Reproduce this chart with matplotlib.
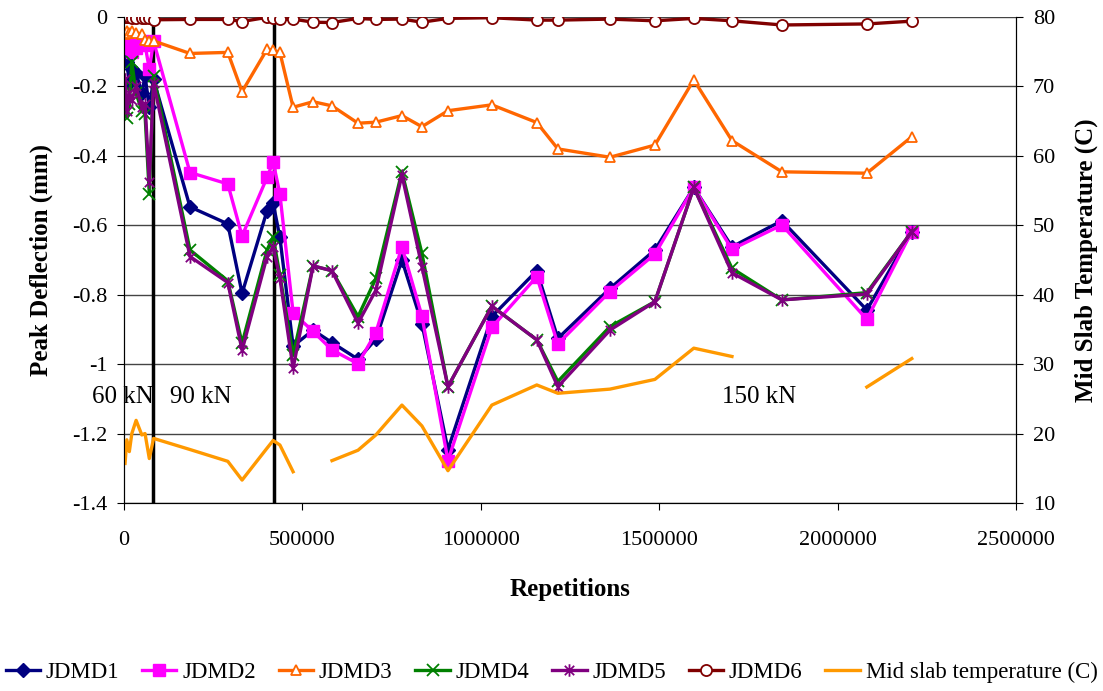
import numpy as np
import matplotlib
matplotlib.use("Agg")
import matplotlib.pyplot as plt
from matplotlib.path import Path
from matplotlib.ticker import FuncFormatter

plt.rcParams['font.family'] = ['Liberation Serif', 'DejaVu Serif']
plt.rcParams['axes.unicode_minus'] = False

# load repetitions at each survey
reps = [3000, 8000, 15000, 22000, 34000, 50000, 59000, 71000, 83000,
        185000, 291000, 331000, 401000, 418000, 437000, 474000, 530000,
        583000, 656000, 706000, 779000, 835000, 908000, 1031000, 1157000,
        1216000, 1362000, 1488000, 1597000, 1704000, 1844000, 2082000, 2208000]

# peak deflections (mm)
jdmd1 = [-0.12, -0.13, -0.19, -0.15, -0.16, -0.22, -0.17, -0.26, -0.18,
         -0.547, -0.596, -0.796, -0.558, -0.536, -0.635, -0.948, -0.902,
         -0.938, -0.986, -0.928, -0.700, -0.883, -1.246, -0.863, -0.731,
         -0.926, -0.782, -0.671, -0.491, -0.662, -0.587, -0.844, -0.618]
jdmd2 = [-0.06, -0.09, -0.08, -0.10, -0.09, -0.07, -0.08, -0.15, -0.07,
         -0.448, -0.481, -0.631, -0.462, -0.417, -0.510, -0.852, -0.906,
         -0.959, -0.999, -0.909, -0.662, -0.861, -1.278, -0.894, -0.748,
         -0.942, -0.791, -0.683, -0.491, -0.669, -0.599, -0.871, -0.618]
jdmd3 = [-0.05, -0.04, -0.045, -0.04, -0.045, -0.05, -0.065, -0.068, -0.069,
         -0.105, -0.102, -0.215, -0.093, -0.095, -0.102, -0.260, -0.244,
         -0.256, -0.306, -0.303, -0.284, -0.316, -0.270, -0.253, -0.304,
         -0.380, -0.404, -0.369, -0.181, -0.356, -0.446, -0.450, -0.345]
jdmd4 = [-0.20, -0.29, -0.25, -0.13, -0.22, -0.27, -0.28, -0.51, -0.17,
         -0.671, -0.760, -0.940, -0.671, -0.634, -0.744, -0.974, -0.717,
         -0.731, -0.863, -0.753, -0.446, -0.681, -1.065, -0.833, -0.930,
         -1.050, -0.892, -0.820, -0.491, -0.724, -0.815, -0.794, -0.618]
jdmd5 = [-0.18, -0.27, -0.22, -0.24, -0.20, -0.26, -0.25, -0.475, -0.19,
         -0.690, -0.765, -0.960, -0.690, -0.662, -0.753, -1.012, -0.717,
         -0.731, -0.882, -0.787, -0.455, -0.719, -1.065, -0.833, -0.930,
         -1.065, -0.902, -0.820, -0.491, -0.737, -0.815, -0.798, -0.618]
jdmd6 = [0.0, -0.001, -0.001, -0.002, -0.002, -0.002, -0.003, -0.004, -0.008,
         -0.007, -0.007, -0.013, -0.001, -0.004, -0.006, -0.006, -0.015,
         -0.016, -0.004, -0.007, -0.006, -0.015, -0.004, -0.002, -0.009,
         -0.009, -0.006, -0.011, -0.004, -0.011, -0.023, -0.020, -0.012]

# mid slab temperature (C), gaps where not recorded
temp = [15.7, 19.1, 17.4, 20.0, 21.9, 19.8, 20.0, 16.4, 19.3,
        17.7, 16.0, 13.3, 17.9, 19.0, 18.35, 14.5, np.nan,
        16.1, 17.6, 19.8, 24.1, 21.1, 14.65, 24.1, 27.0,
        25.8, 26.4, 27.8, 32.3, 31.1, np.nan, 26.7, 30.8]

load_changes = [82000, 420000]
load_labels = [("60 kN", 82000, "right"), ("90 kN", 128000, "left"),
               ("150 kN", 1780000, "center")]

# Excel-style star: an x with a vertical bar
star = Path([(0, -1), (0, 1), (-0.75, -0.75), (0.75, 0.75), (-0.75, 0.75), (0.75, -0.75)],
            [Path.MOVETO, Path.LINETO, Path.MOVETO, Path.LINETO, Path.MOVETO, Path.LINETO])

fig = plt.figure(figsize=(11.03, 6.91), dpi=100)
ax = fig.add_axes([0.1124, 0.2721, 0.8087, 0.7033])

ax.plot(reps, jdmd1, color='#000080', lw=2.4, marker='D', ms=7, label='JDMD1')
ax.plot(reps, jdmd2, color='#FF00FF', lw=2.4, marker='s', ms=9, label='JDMD2')
ax.plot(reps, jdmd3, color='#FF6600', lw=2.4, marker='^', ms=7, mfc='white',
        mec='#FF6600', mew=1.3, label='JDMD3')
ax.plot(reps, jdmd4, color='#008000', lw=2.4, marker='x', ms=8, mew=1.3, label='JDMD4')
ax.plot(reps, jdmd5, color='#800080', lw=2.4, marker=star, ms=9, mew=1.3, label='JDMD5')
ax.plot(reps, jdmd6, color='#800000', lw=2.4, marker='o', ms=8, mfc='white',
        mec='#800000', mew=1.3, label='JDMD6')

for xv in load_changes:
    ax.axvline(xv, color='black', lw=2.5, zorder=1)

for txt, xv, ha in load_labels:
    ax.text(xv, -1.095, txt, ha=ha, va='center', fontsize=18, clip_on=False)

ax.set_xlim(0, 2500000)
ax.set_ylim(-1.4, 0)
ax.set_yticks(np.arange(-1.4, 0.01, 0.2))
ax.set_xticks(np.arange(0, 2500001, 500000))
ax.yaxis.set_major_formatter(FuncFormatter(lambda v, p: f"{round(v, 1):g}" if abs(v) > 1e-9 else "0"))
ax.xaxis.set_major_formatter(FuncFormatter(lambda v, p: f"{int(round(v))}"))
ax.grid(axis='y', color='#444444', lw=1.0)
ax.set_axisbelow(True)
ax.spines['top'].set_visible(False)
ax.tick_params(labelsize=16, length=5, direction='out')
ax.tick_params(axis='x', pad=15)
ax.tick_params(axis='y', pad=7)
ax.set_xlabel('Repetitions', fontsize=18, fontweight='bold', labelpad=20)
ax.set_ylabel('Peak Deflection (mm)', fontsize=18, fontweight='bold', labelpad=14)

ax2 = ax.twinx()
ax2.plot(reps, temp, color='#FF9900', lw=2.4, label='Mid slab temperature (C)')
ax2.set_ylim(10, 80)
ax2.set_yticks(np.arange(10, 81, 10))
ax2.spines['top'].set_visible(False)
ax2.tick_params(labelsize=16, length=5, direction='out', pad=7)
ax2.set_ylabel('Mid Slab Temperature (C)', fontsize=18, fontweight='bold', labelpad=14)

h1, l1 = ax.get_legend_handles_labels()
h2, l2 = ax2.get_legend_handles_labels()
fig.legend(h1 + h2, l1 + l2, loc='center', bbox_to_anchor=(0.5, 0.027), ncol=7,
           frameon=False, fontsize=16.5, handlelength=1.5, handletextpad=0.25,
           columnspacing=1.0, borderaxespad=0)

fig.savefig('out.png', dpi=100)
